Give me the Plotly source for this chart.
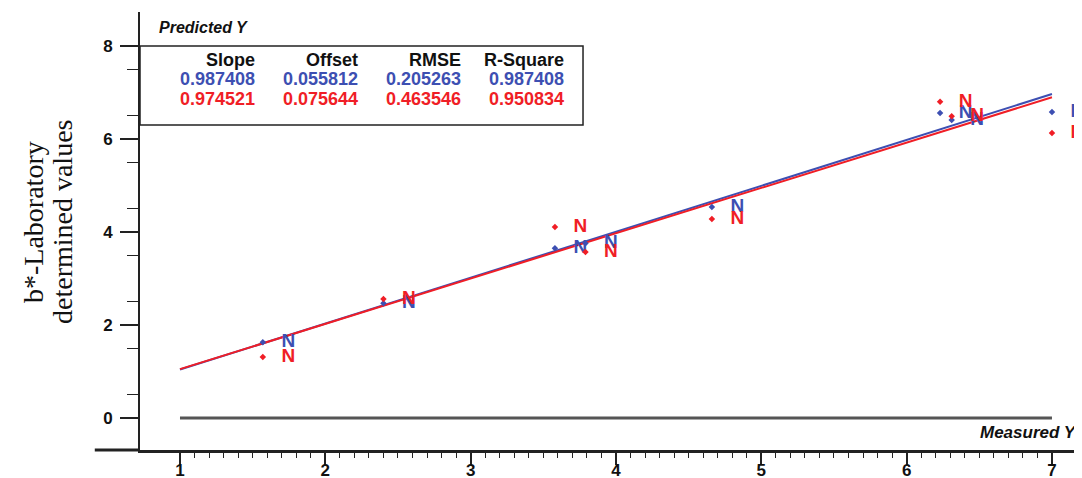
import plotly.graph_objects as go

# ---------------- data ----------------
measured = [1.57, 2.40, 3.58, 3.79, 4.66, 6.23, 6.31, 7.00]
pred_blue = [1.63, 2.47, 3.65, 3.76, 4.54, 6.56, 6.41, 6.58]
pred_red = [1.31, 2.56, 4.11, 3.57, 4.28, 6.80, 6.49, 6.13]
point_label = "N"

stat_headers = ["Slope", "Offset", "RMSE", "R-Square"]
stats_blue = ["0.987408", "0.055812", "0.205263", "0.987408"]
stats_red = ["0.974521", "0.075644", "0.463546", "0.950834"]
slope_blue, offset_blue = 0.987408, 0.055812
slope_red, offset_red = 0.974521, 0.075644

x_ticks = [1, 2, 3, 4, 5, 6, 7]
y_ticks = [0, 2, 4, 6, 8]

BLUE = "#3d4fb2"
RED = "#f01e26"
AX = "#222222"
TICKFONT = dict(family="Liberation Sans Narrow, Liberation Sans, Arial", size=17,
                color="#111111", weight="bold")

label_dx = 0.175  # label drawn to the right of each point

fig = go.Figure()

xl = [x_ticks[0], x_ticks[-1]]
fig.add_trace(go.Scatter(x=xl, y=[slope_blue * v + offset_blue for v in xl], mode="lines",
                         line=dict(color=BLUE, width=2), hoverinfo="skip"))
fig.add_trace(go.Scatter(x=xl, y=[slope_red * v + offset_red for v in xl], mode="lines",
                         line=dict(color=RED, width=2), hoverinfo="skip"))

for ys, col in [(pred_blue, BLUE), (pred_red, RED)]:
    fig.add_trace(go.Scatter(x=measured, y=ys, mode="markers",
                             marker=dict(color=col, size=5, symbol="diamond")))
    fig.add_trace(go.Scatter(x=[m + label_dx for m in measured], y=ys, mode="text",
                             text=[point_label] * len(measured), textposition="middle center",
                             textfont=dict(family="Liberation Sans, Arial", size=19,
                                           color=col, weight="bold"),
                             cliponaxis=False))

# zero line from first to last measured tick
fig.add_shape(type="line", xref="x", yref="y", x0=x_ticks[0], x1=x_ticks[-1], y0=0, y1=0,
              line=dict(color="#555555", width=3), layer="below")

# extension of x axis line to the left of the y axis
fig.add_shape(type="line", xref="paper", yref="paper", x0=-0.048, x1=0, y0=0, y1=0,
              line=dict(color=AX, width=3))

# statistics box
box_bottom = 6.30
fig.add_shape(type="rect", xref="paper", yref="y", x0=0, x1=0.4703, y0=box_bottom, y1=y_ticks[-1],
              line=dict(color=AX, width=1.5), fillcolor="white", layer="above")

col_x = [0.1242, 0.2335, 0.3429, 0.4522]
row_y = [7.70, 7.29, 6.86]
rows = [(stat_headers, "#111111"), (stats_blue, BLUE), (stats_red, RED)]
annotations = []
for (vals, col), ry in zip(rows, row_y):
    for v, cx in zip(vals, col_x):
        annotations.append(dict(text=v, xref="paper", yref="y", x=cx, y=ry, xanchor="right",
                                yanchor="middle", showarrow=False,
                                font=dict(family="Liberation Sans, Arial", size=18,
                                          color=col, weight="bold")))

annotations.append(dict(text="Predicted Y", xref="paper", yref="paper", x=0.018, y=0.9635,
                        xanchor="left", yanchor="middle", showarrow=False,
                        font=dict(family="Liberation Sans, Arial", size=16, color="#111111",
                                  weight="bold", style="italic")))
annotations.append(dict(text="Measured Y", xref="paper", yref="paper", x=0.997, y=0.041,
                        xanchor="right", yanchor="middle", showarrow=False,
                        font=dict(family="Liberation Sans, Arial", size=17, color="#111111",
                                  weight="bold", style="italic")))
# y-axis title, two lines
for txt, px in [("b*-Laboratory", 33), ("determined values", 62)]:
    annotations.append(dict(text=txt, xref="paper", yref="paper", x=(px - 140) / 942,
                            y=(450 - 222) / 438, xanchor="center", yanchor="middle",
                            textangle=-90, showarrow=False,
                            font=dict(family="Liberation Serif, Times New Roman", size=28,
                                      color="#111111")))

x_minor = [round(a + b / 10, 1) for a in x_ticks[:-1] for b in range(1, 10)]
y_minor = [t + 0.5 for t in range(0, 8)]
y_minor = [v for v in y_minor if v not in y_ticks]

# page body has an 8px margin: the figure is sized so that the plot area sits
# at page pixels x 140..1082, y 12..450
fig.update_layout(
    width=1074, height=470,
    margin=dict(l=132, r=0, t=4, b=28, autoexpand=False),
    plot_bgcolor="white", paper_bgcolor="white",
    showlegend=False,
    annotations=annotations,
    xaxis=dict(range=[0.7248, 7.2066], showgrid=False, zeroline=False, automargin=False,
               showline=True, linecolor=AX, linewidth=3,
               tickmode="array", tickvals=x_ticks, ticktext=[str(t) for t in x_ticks],
               ticks="outside", ticklen=12, tickwidth=1.5, tickcolor=AX, tickfont=TICKFONT,
               ticklabelstandoff=-9,
               minor=dict(tickmode="array", tickvals=x_minor, ticks="outside", ticklen=5,
                          tickwidth=1, tickcolor=AX, showgrid=False)),
    yaxis=dict(range=[-0.688, 8.731], showgrid=False, zeroline=False, automargin=False,
               showline=True, linecolor=AX, linewidth=2,
               tickmode="array", tickvals=y_ticks, ticktext=[str(t) for t in y_ticks],
               ticks="outside", ticklen=18, tickwidth=1.5, tickcolor=AX, tickfont=TICKFONT,
               ticklabelstandoff=4,
               minor=dict(tickmode="array", tickvals=y_minor, ticks="outside", ticklen=11,
                          tickwidth=1, tickcolor=AX, showgrid=False)),
)

fig.write_html("out.html")
